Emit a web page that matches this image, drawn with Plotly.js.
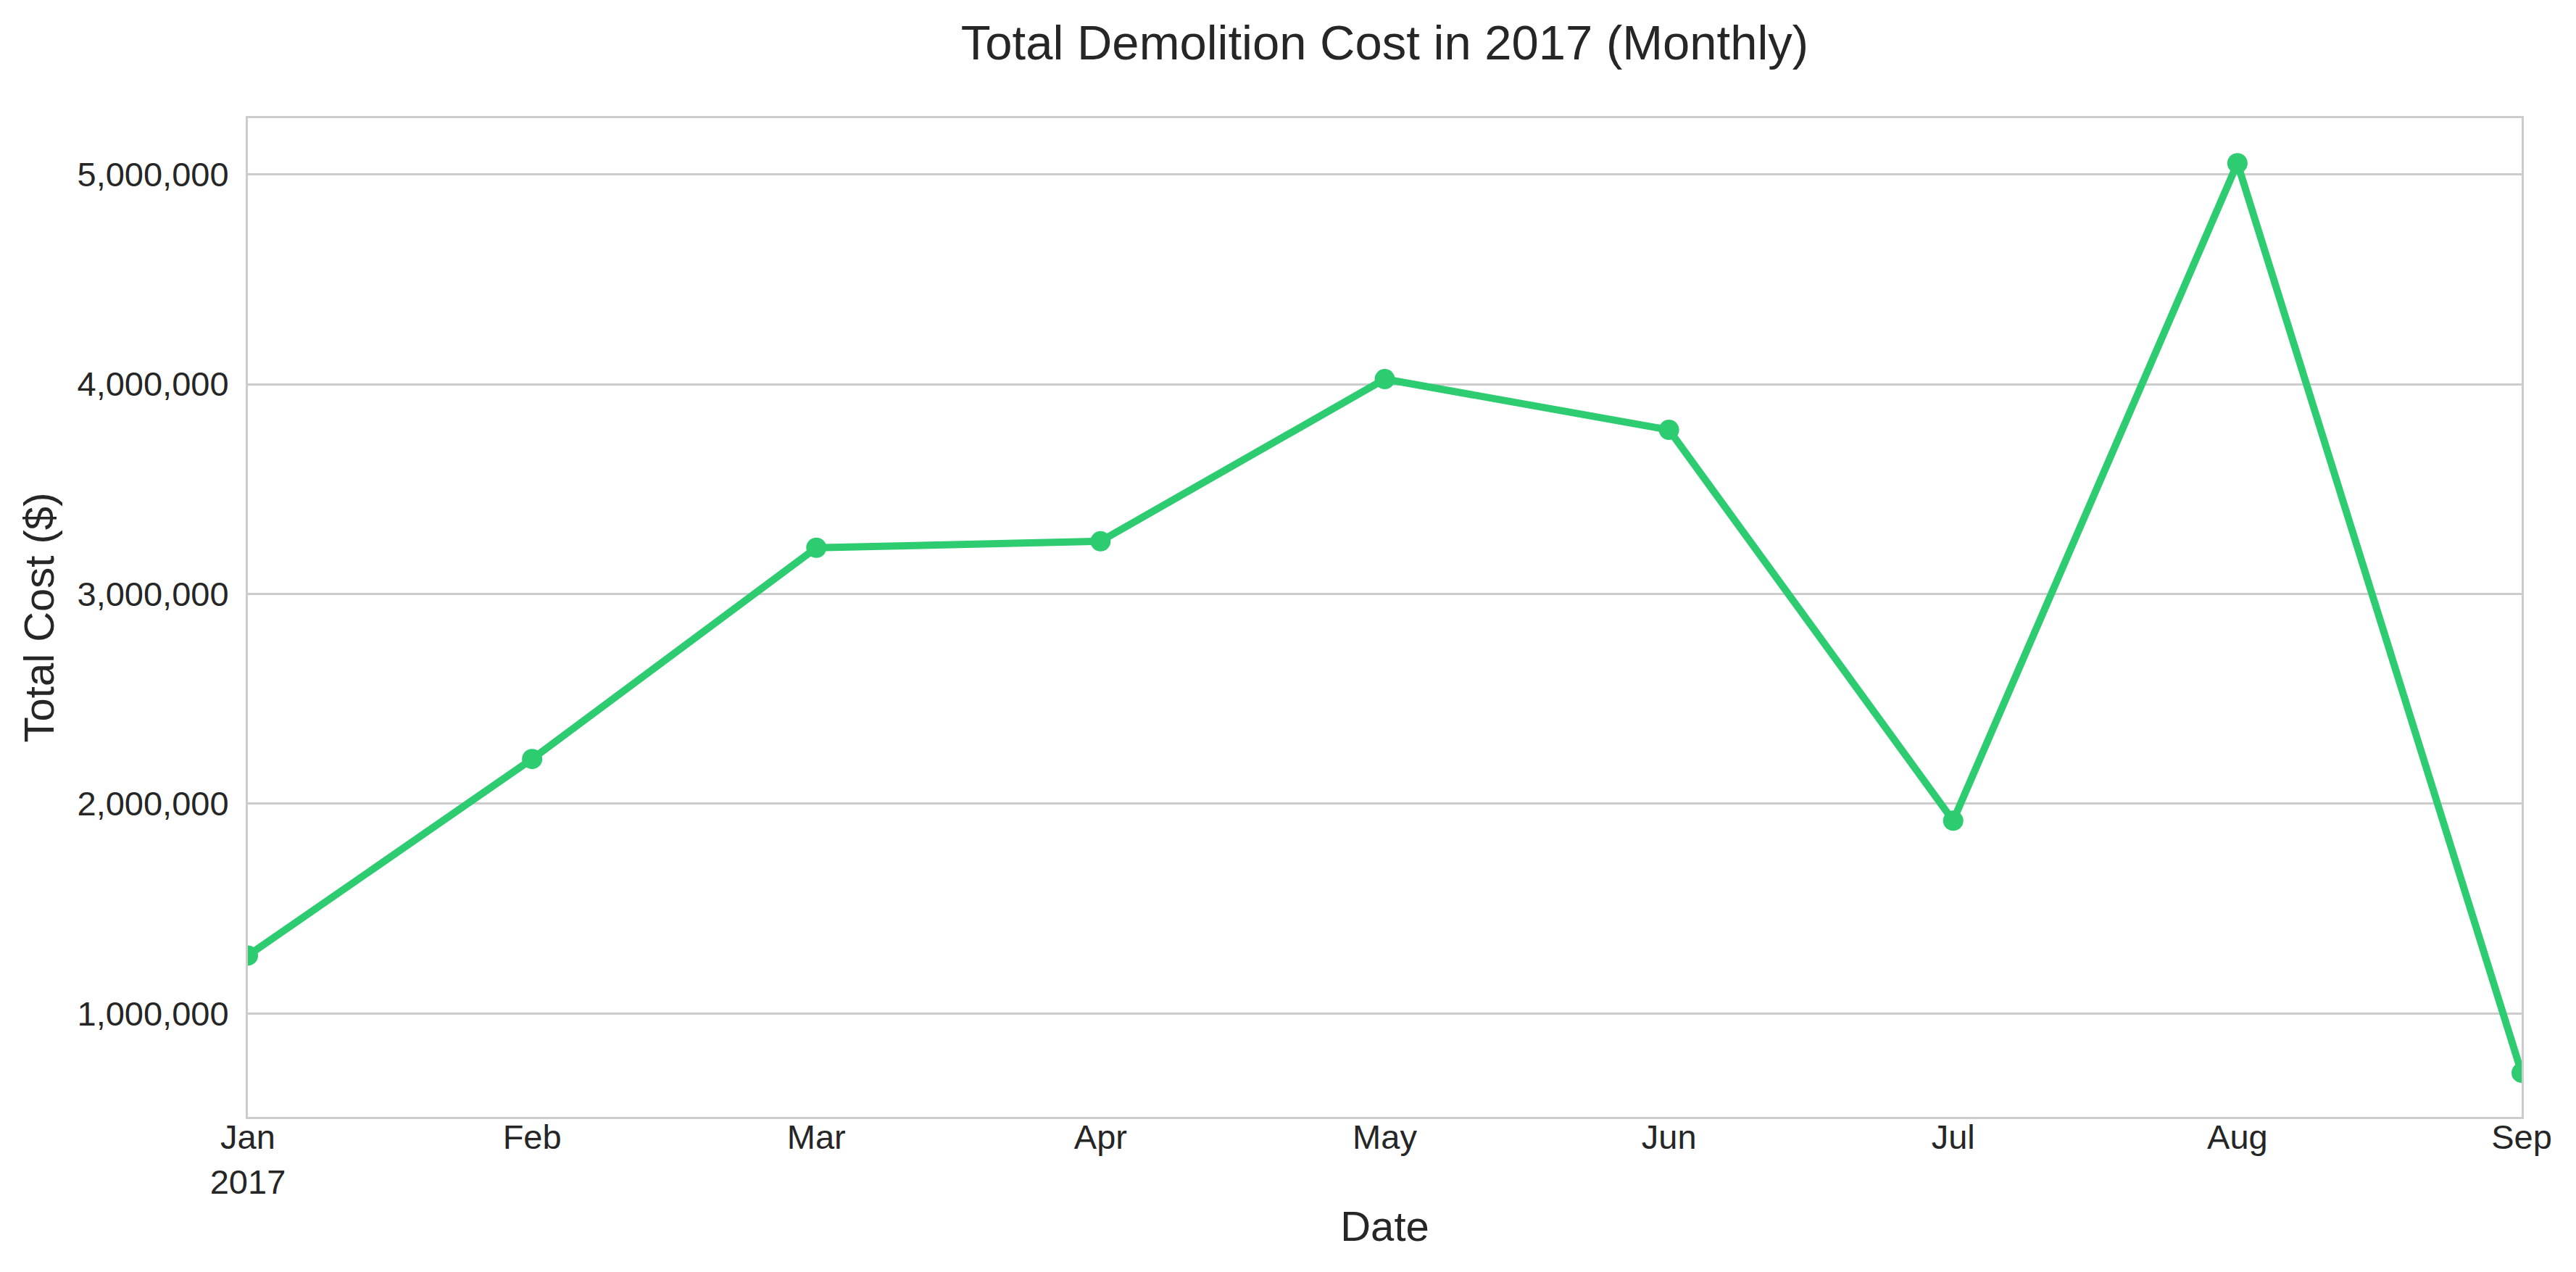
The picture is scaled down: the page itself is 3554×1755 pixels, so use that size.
<!DOCTYPE html>
<html>
<head>
<meta charset="utf-8">
<script src="https://cdn.plot.ly/plotly-3.0.1.min.js"></script>
<style>
  html, body { margin: 0; padding: 0; background: #fff; }
</style>
</head>
<body>
<div id="myDiv" style="width:3554px;height:1755px;"></div>
<script>
// Monthly totals
var months = ['2017-01', '2017-02', '2017-03', '2017-04', '2017-05', '2017-06', '2017-07', '2017-08', '2017-09'];
var monthLabels = ['Jan<br>2017', 'Feb', 'Mar', 'Apr', 'May', 'Jun', 'Jul', 'Aug', 'Sep'];
var totalCost = [1276000, 2213000, 3220000, 3251000, 4024000, 3782000, 1919000, 5053000, 717000];
var yTicks = [1000000, 2000000, 3000000, 4000000, 5000000];

var textColor = '#262626';
var font = 'Liberation Sans, Arial, sans-serif';

var trace = {
    x: months,
    y: totalCost,
    type: 'scatter',
    mode: 'lines+markers',
    line: { color: '#2ecc71', width: 10 },
    marker: { color: '#2ecc71', size: 28 },
    showlegend: false
};

var layout = {
    width: 3554,
    height: 1755,
    margin: { l: 342, r: 75, t: 163, b: 214 },
    paper_bgcolor: '#ffffff',
    plot_bgcolor: '#ffffff',
    font: { family: font, color: textColor, size: 47 },
    title: {
        text: 'Total Demolition Cost in 2017 (Monthly)',
        font: { size: 67, color: textColor },
        x: 0.5, xref: 'paper', xanchor: 'center',
        y: 1 - 59 / 1755, yref: 'container', yanchor: 'middle'
    },
    xaxis: {
        type: 'category',
        range: [0, 8],
        tickvals: months,
        ticktext: monthLabels,
        showgrid: false,
        zeroline: false,
        showline: true, mirror: true,
        linecolor: '#cccccc', linewidth: 3,
        ticks: '',
        ticklabelstandoff: -15,
        tickfont: { size: 47, color: textColor },
        title: { text: 'Date', font: { size: 58, color: textColor }, standoff: 16 }
    },
    yaxis: {
        range: [507000, 5268000],
        tickvals: yTicks,
        tickformat: ',d',
        showgrid: true, gridcolor: '#cccccc', gridwidth: 3,
        zeroline: false,
        showline: true, mirror: true,
        linecolor: '#cccccc', linewidth: 3,
        ticks: '',
        ticklabelstandoff: 14,
        tickfont: { size: 47, color: textColor },
        title: { text: 'Total Cost ($)', font: { size: 58, color: textColor }, standoff: 14 }
    }
};

Plotly.newPlot('myDiv', [trace], layout, { displayModeBar: false, staticPlot: true });
</script>
</body>
</html>
